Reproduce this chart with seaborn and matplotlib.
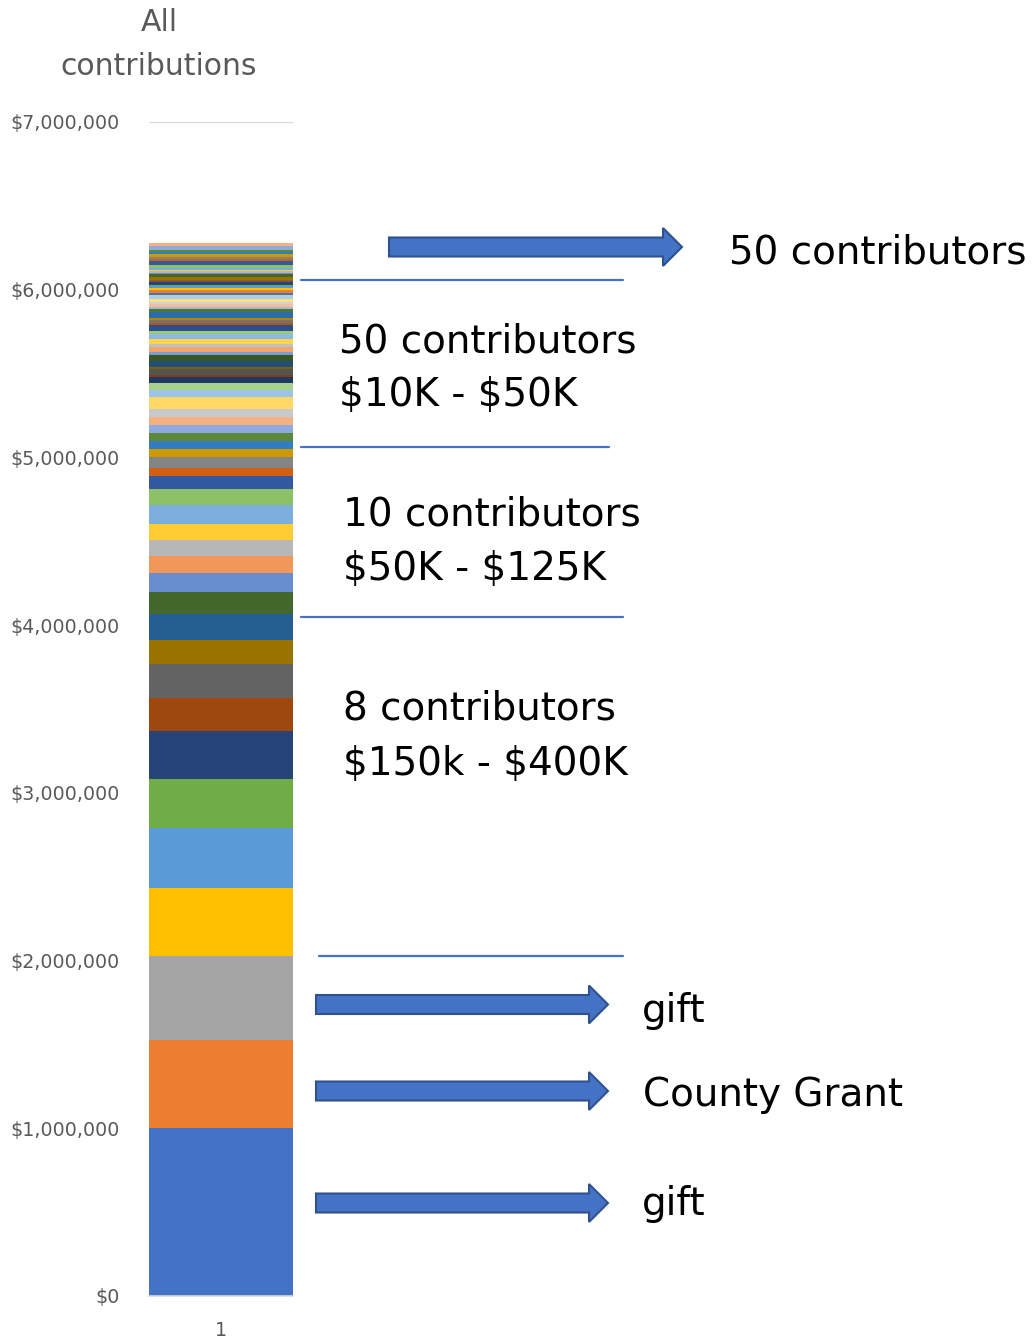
import colorsys
import numpy as np
import pandas as pd
import matplotlib
matplotlib.use("Agg")
import matplotlib.pyplot as plt
import seaborn as sns
from matplotlib import colors as mcolors
from matplotlib.patches import Polygon
from matplotlib.lines import Line2D
from matplotlib.ticker import FuncFormatter

# ---------------- data (thousands of dollars, stacked bottom -> top) ----------------
category = "1"
major_gifts = [1000, 525, 505]                      # gift, County Grant, gift
tier_150k_400k = [400, 358, 292, 286, 197, 203, 143, 155]
tier_50k_125k = [131, 113, 107, 95, 95, 111, 95, 78, 48, 66]
tier_10k_50k = [48, 48, 48, 48, 48, 48, 67, 46, 42, 36, 10, 36, 12, 36, 32, 18,
                30, 18, 30, 34, 16, 34, 14, 16, 14, 34, 18, 12, 20, 12, 16,
                18, 4, 12, 18, 4, 12, 12, 4, 18, 4, 6, 18, 4, 16]
tier_under_10k = [4, 4, 12, 4, 12, 18, 24, 12, 12, 18, 12, 12, 22, 18]

y_ticks = [0, 1_000_000, 2_000_000, 3_000_000, 4_000_000, 5_000_000, 6_000_000, 7_000_000]

# ---------------- styling helpers ----------------
W, H = 1035, 1340
ACCENTS = ["#4472C4", "#ED7D31", "#A5A5A5", "#FFC000", "#5B9BD5", "#70AD47"]
VARIANTS = [(1.0, 0.0), (0.6, 0.0), (0.8, 0.2), (0.8, 0.0), (0.6, 0.4),
            (0.5, 0.0), (0.7, 0.3), (0.7, 0.0), (0.5, 0.5)]


def office_color(i):
    r, g, b = mcolors.to_rgb(ACCENTS[i % 6])
    mod, off = VARIANTS[(i // 6) % len(VARIANTS)]
    h, l, s = colorsys.rgb_to_hls(r, g, b)
    l = min(1.0, l * mod + off)
    return colorsys.hls_to_rgb(h, l, s)


def fx(x):
    return x / W


def fy(y):
    return 1 - y / H


sns.set_theme(style="white")
plt.rcParams["font.family"] = ["DejaVu Sans"]

values = np.array(major_gifts + tier_150k_400k + tier_50k_125k + tier_10k_50k + tier_under_10k) * 1000
tops = np.cumsum(values)
segments = [f"s{i:03d}" for i in range(len(values))]
df = pd.DataFrame({"category": category, "segment": segments, "top": tops})
palette = {seg: office_color(i) for i, seg in enumerate(segments)}

fig = plt.figure(figsize=(W / 100, H / 100), dpi=100)
ax = fig.add_axes([fx(149), fy(1296), (293 - 149) / W, (1296 - 122) / H])

# overlapping cumulative bars: tallest first, so each lower segment covers the previous
sns.barplot(data=df, x="category", y="top", hue="segment", hue_order=segments[::-1],
            palette=palette, dodge=False, width=1.0, saturation=1, errorbar=None,
            legend=False, linewidth=0, ax=ax)

ax.set_xlim(-0.5, 0.5)
ax.set_ylim(0, 7_000_000)
ax.set_yticks(y_ticks)
ax.yaxis.set_major_formatter(FuncFormatter(lambda v, p: f"${v:,.0f}"))
ax.set_xlabel("")
ax.set_ylabel("")
ax.set_axisbelow(True)
ax.yaxis.grid(True, color="#D9D9D9", linewidth=1.6)
ax.xaxis.grid(False)
for side in ["left", "right", "top"]:
    ax.spines[side].set_visible(False)
ax.spines["bottom"].set_color("#D9D9D9")
ax.spines["bottom"].set_linewidth(1.2)
ax.tick_params(axis="y", length=0, pad=21, labelsize=13.7, labelcolor="#595959")
ax.tick_params(axis="x", length=0, pad=18, labelsize=13.7, labelcolor="#595959")

# title
fig.text(fx(159), fy(31), "All", ha="center", va="baseline", fontsize=21.5, color="#595959")
fig.text(fx(159), fy(75), "contributions", ha="center", va="baseline", fontsize=21.5, color="#595959")

# separator lines
for y, x1, x2 in [(280, 301, 623), (447, 301, 609), (617, 301, 623), (956, 319, 623)]:
    fig.add_artist(Line2D([fx(x1), fx(x2)], [fy(y), fy(y)], transform=fig.transFigure,
                          color="#4472C4", linewidth=1.6))


def block_arrow(x0, xh, xt, yc, bh=9.5, hh=19):
    pts = [(x0, yc - bh), (xh, yc - bh), (xh, yc - hh), (xt, yc), (xh, yc + hh),
           (xh, yc + bh), (x0, yc + bh)]
    fig.add_artist(Polygon([(fx(x), fy(y)) for x, y in pts], closed=True,
                           transform=fig.transFigure, facecolor="#4472C4",
                           edgecolor="#2F528F", linewidth=1.5))


block_arrow(389, 663, 682, 247)
block_arrow(316, 589, 608, 1004.5)
block_arrow(316, 589, 608, 1091)
block_arrow(316, 589, 608, 1203)

TS = 28
labels = [
    (729, 264, "50 contributors"),
    (339, 352, "50 contributors"),
    (339, 406, "$10K - $50K"),
    (343, 525, "10 contributors"),
    (343, 580, "$50K - $125K"),
    (343, 720, "8 contributors"),
    (343, 775, "$150k - $400K"),
    (642, 1022, "gift"),
    (643, 1106, "County Grant"),
    (642, 1215, "gift"),
]
for x, y, s in labels:
    fig.text(fx(x), fy(y), s, ha="left", va="baseline", fontsize=TS, color="black",
             parse_math=False)

fig.savefig("out.png", dpi=100)
